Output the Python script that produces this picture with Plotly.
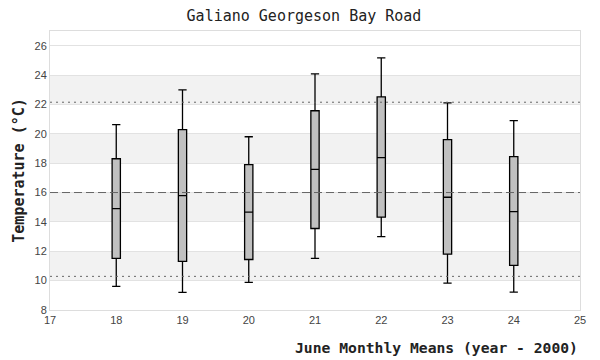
import plotly.graph_objects as go

years = [18, 19, 20, 21, 22, 23, 24]
lower = [9.61, 9.2, 9.88, 11.51, 13.0, 9.83, 9.22]
q1 = [11.51, 11.31, 11.44, 13.55, 14.32, 11.8, 11.04]
median = [14.91, 15.79, 14.66, 17.58, 18.37, 15.68, 14.7]
q3 = [18.3, 20.28, 17.9, 21.57, 22.52, 19.6, 18.44]
upper = [20.62, 22.99, 19.8, 24.08, 25.17, 22.11, 20.89]

mean_line = 16.0
upper_line = 22.15
lower_line = 10.29

band_starts = [10, 14, 18, 22]
yticks = [8, 10, 12, 14, 16, 18, 20, 22, 24, 26]
xticks = [17, 18, 19, 20, 21, 22, 23, 24, 25]

title = "Galiano Georgeson Bay Road"
xtitle = "June Monthly Means (year - 2000)"
ytitle = "Temperature (°C)"

mono = "DejaVu Sans Mono"

fig = go.Figure()
fig.add_trace(go.Box(
    x=years, q1=q1, median=median, q3=q3,
    lowerfence=lower, upperfence=upper,
    width=0.125, whiskerwidth=1,
    fillcolor="#c0c0c0",
    line=dict(color="#000000", width=1.3),
    boxpoints=False, showlegend=False, hoverinfo="skip",
))

shapes = []
for b in band_starts:
    shapes.append(dict(type="rect", xref="paper", yref="y", x0=0, x1=1, y0=b, y1=b + 2,
                       fillcolor="#f2f2f2", line=dict(width=0), layer="below"))
shapes.append(dict(type="line", xref="paper", yref="y", x0=0, x1=1, y0=mean_line, y1=mean_line,
                   line=dict(color="#666666", width=1, dash="8px,4px")))
for v in (upper_line, lower_line):
    shapes.append(dict(type="line", xref="paper", yref="y", x0=0, x1=1, y0=v, y1=v,
                       line=dict(color="#666666", width=1, dash="2px,4px")))

fig.update_layout(
    width=592, height=352,
    margin=dict(l=42, r=20, t=23, b=50),
    paper_bgcolor="white", plot_bgcolor="white",
    shapes=shapes,
    title=dict(text=title, x=0.5, xanchor="center", xref="container",
               y=1 - 8 / 352, yanchor="middle", yref="container",
               font=dict(family=mono, size=15, color="#222")),
    xaxis=dict(range=[17, 25], tickvals=xticks, showgrid=False, zeroline=False,
               showline=True, linecolor="#dddddd", linewidth=1, mirror=True,
               ticks="", tickfont=dict(family="Liberation Sans, Arial", size=11, color="#444")),
    yaxis=dict(range=[8, 27], tickvals=yticks, showgrid=True, gridcolor="#e2e2e2", gridwidth=1,
               zeroline=False, showline=True, linecolor="#dddddd", linewidth=1, mirror=True,
               ticks="", tickfont=dict(family="Liberation Sans, Arial", size=11, color="#444")),
    annotations=[
        dict(text="<b>" + xtitle + "</b>", xref="paper", yref="paper", x=1.0, y=-0.133,
             xanchor="right", yanchor="middle", showarrow=False,
             font=dict(family=mono, size=14.7, color="#222")),
        dict(text="<b>" + ytitle + "</b>", xref="paper", yref="paper", x=-0.06, y=0.5,
             xanchor="center", yanchor="middle", textangle=-90, showarrow=False,
             font=dict(family=mono, size=15, color="#222")),
    ],
)

fig.write_html("out.html")
